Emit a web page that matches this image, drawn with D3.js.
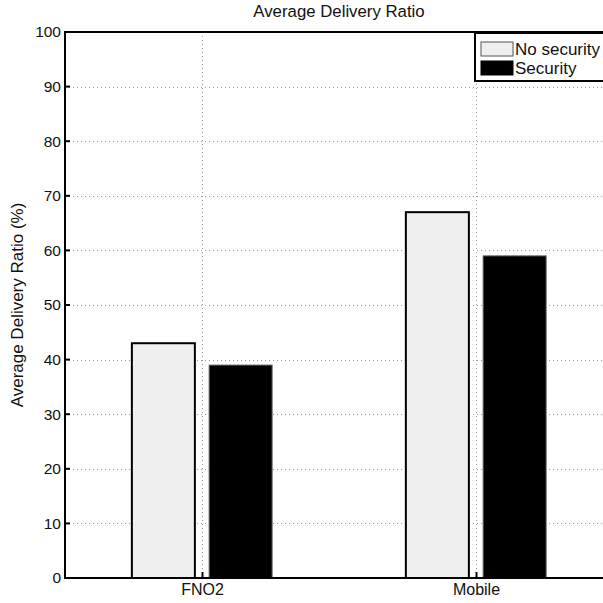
<!DOCTYPE html>
<html><head><meta charset="utf-8">
<script src="https://cdn.jsdelivr.net/npm/d3@7"></script>
<style>body{margin:0;background:#fff}svg{display:block}text{font-family:"Liberation Sans",Arial,sans-serif;fill:#111}</style>
</head><body>
<div id="c"></div>
<script>
const categories = ["FNO2", "Mobile"];
const seriesNames = ["No security", "Security"];
const noSecurity = [43, 67];
const security = [39, 59];
const yTicks = [0,10,20,30,40,50,60,70,80,90,100];
const title = "Average Delivery Ratio";
const yLabel = "Average Delivery Ratio (%)";

(function(){
const W = 603, H = 603;
const mL = 65, mT = 32, mB = 578, mR = 613;
const x = d3.scaleLinear().domain([0.5, 2.5]).range([mL, mR]);
const y = d3.scaleLinear().domain([0, 100]).range([mB, mT]);
const colors = ["#efefef", "#000000"];
const series = [noSecurity, security];
const barW = 0.23, offs = [-0.141, 0.141];

const svg = d3.select("#c").append("svg").attr("width", W).attr("height", H);

// grid
const g = svg.append("g");
g.selectAll("line.hg").data(yTicks.filter(t => t > 0 && t < 100)).join("line")
  .attr("x1", mL).attr("x2", mR).attr("y1", d => Math.round(y(d)) + 0.5).attr("y2", d => Math.round(y(d)) + 0.5)
  .attr("stroke", "#999").attr("stroke-width", 1).attr("stroke-dasharray", "1,3");
g.selectAll("line.vg").data(categories).join("line")
  .attr("x1", (d,i) => Math.round(x(i+1)) + 0.5).attr("x2", (d,i) => Math.round(x(i+1)) + 0.5)
  .attr("y1", mT).attr("y2", mB)
  .attr("stroke", "#999").attr("stroke-width", 1).attr("stroke-dasharray", "1,3");

// bars
series.forEach((vals, s) => {
  svg.append("g").selectAll("rect").data(vals).join("rect")
    .attr("x", (d,i) => x(i+1+offs[s]-barW/2))
    .attr("width", x(barW) - x(0))
    .attr("y", d => y(d))
    .attr("height", d => y(0) - y(d))
    .attr("fill", colors[s])
    .attr("stroke", s === 0 ? "#000" : "#666")
    .attr("stroke-width", s === 0 ? 2 : 1);
});

// axes box
svg.append("rect").attr("x", mL).attr("y", mT).attr("width", mR-mL).attr("height", mB-mT)
  .attr("fill", "none").attr("stroke", "#000").attr("stroke-width", 2);

// y ticks
const ya = svg.append("g");
yTicks.forEach(t => {
  ya.append("line").attr("x1", mL).attr("x2", mL+5).attr("y1", y(t)).attr("y2", y(t)).attr("stroke", "#000").attr("stroke-width", 2);
  ya.append("text").attr("x", mL-4).attr("y", y(t)).attr("dy", "0.35em").attr("text-anchor", "end")
    .attr("font-size", 15.5).text(t);
});
// x ticks
categories.forEach((c,i) => {
  const xx = Math.round(x(i+1)) + 0.5;
  svg.append("line").attr("x1", xx).attr("x2", xx).attr("y1", mB).attr("y2", mB-6).attr("stroke", "#000").attr("stroke-width", 2);
  svg.append("text").attr("x", xx).attr("y", mB+17).attr("text-anchor", "middle").attr("font-size", 16).text(c);
});

// title & label
svg.append("text").attr("x", (mL+mR)/2).attr("y", 17).attr("text-anchor", "middle").attr("font-size", 16.8).text(title);
svg.append("text").attr("transform", `translate(23,${(mT+mB)/2}) rotate(-90)`).attr("text-anchor", "middle").attr("font-size", 17).text(yLabel);

// legend
const lg = svg.append("g");
lg.append("rect").attr("x", 475).attr("y", 33).attr("width", 140).attr("height", 48).attr("fill", "#fff").attr("stroke", "#000").attr("stroke-width", 2);
seriesNames.forEach((n, i) => {
  lg.append("rect").attr("x", 481).attr("y", 42 + i*19).attr("width", 32).attr("height", 14)
    .attr("fill", colors[i]).attr("stroke", i === 0 ? "#555" : "#000").attr("stroke-width", 1);
  lg.append("text").attr("x", 515).attr("y", 49 + i*19).attr("dy", "0.35em").attr("font-size", 17).text(n);
});
})();
</script>
</body></html>
